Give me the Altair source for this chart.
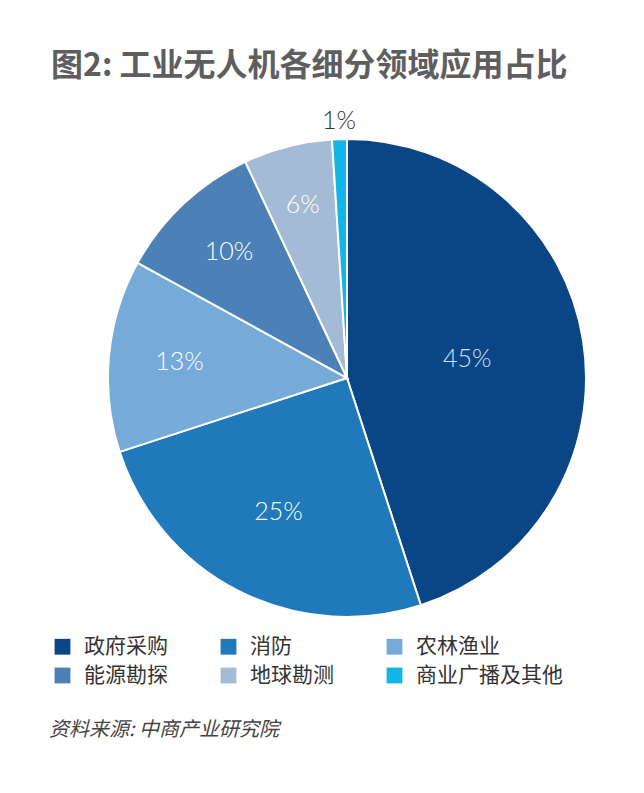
import altair as alt
import pandas as pd

categories = ["政府采购", "消防", "农林渔业", "能源勘探", "地球勘测", "商业广播及其他"]
values = [45, 25, 13, 10, 6, 1]
colors = ["#0a4586", "#1f79ba", "#76aad9", "#4b81b7", "#a4bbd5", "#12b5e8"]
title_text = "图2: 工业无人机各细分领域应用占比"
source_text = "资料来源: 中商产业研究院"

df = pd.DataFrame({"cat": categories, "value": values, "idx": list(range(len(values)))})
df["label"] = [f"{v}%" for v in values]

CX, CY, R = 339, 370, 239

base = alt.Chart(df)

color_enc = alt.Color(
    "cat:N",
    scale=alt.Scale(domain=categories, range=colors),
    sort=categories,
    legend=alt.Legend(
        title=None, orient="none", legendX=44, legendY=628, columns=3,
        direction="horizontal",
        symbolType="square", symbolSize=250, symbolStrokeWidth=0, symbolOpacity=1,
        labelFontSize=21, labelColor="#333333", labelFont="Noto Sans CJK SC",
        labelOffset=11, columnPadding=50, rowPadding=7, labelLimit=400, padding=0,
    ),
)

pie = base.mark_arc(stroke="white", strokeWidth=2, radius=R).encode(
    theta=alt.Theta("value:Q", stack=True),
    order=alt.Order("idx:Q"),
    color=color_enc,
    x=alt.value(CX), y=alt.value(CY),
)

label_color = (
    alt.when("datum.value == 45").then(alt.value("#cfe2f6"))
    .when("datum.value < 2").then(alt.value("#333333"))
    .otherwise(alt.value("#ffffff"))
)

labels = base.transform_joinaggregate(
    total="sum(value)"
).transform_window(
    cum="sum(value)", sort=[alt.SortField("idx")], frame=[None, 0]
).transform_calculate(
    ang="(datum.cum - datum.value / 2) / datum.total * 2 * PI",
    r="datum.value >= 2 ? 187 - 1.45 * datum.value : 257",
).mark_text(fontSize=25, font="Lato", fontWeight=300).encode(
    theta=alt.Theta("ang:Q", scale=None, stack=False),
    radius=alt.Radius("r:Q", scale=None),
    text="label:N",
    color=label_color,
    x=alt.value(CX), y=alt.value(CY),
)

title = alt.Chart(pd.DataFrame({"t": [title_text]})).mark_text(
    align="left", baseline="middle", fontSize=32, fontWeight="bold",
    font="Noto Sans CJK SC", color="#5e5e5e",
).encode(text="t:N", x=alt.value(43), y=alt.value(58))

source = alt.Chart(pd.DataFrame({"t": [source_text]})).mark_text(
    align="left", baseline="middle", fontSize=20, fontStyle="italic",
    font="Noto Sans CJK SC", color="#444444",
).encode(text="t:N", x=alt.value(41), y=alt.value(722))

chart = alt.layer(pie, labels, title, source).properties(
    width=628, height=770,
    autosize=alt.AutoSizeParams(type="none"),
    padding=0,
    background="white",
).configure_view(stroke=None)

chart.save("out.html", embed_options={"renderer": "svg", "actions": False})
